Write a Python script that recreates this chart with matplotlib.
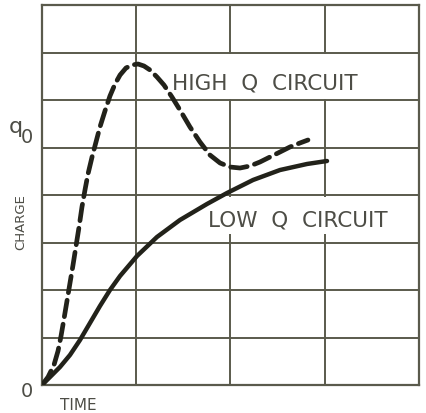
import matplotlib
matplotlib.use("Agg")
import matplotlib.pyplot as plt
from matplotlib.patches import Rectangle

# Data (time in grid columns, charge in grid rows)
high_q_time = [0.0, 0.064, 0.127, 0.170, 0.202, 0.233, 0.265, 0.297, 0.329, 0.361, 0.393,
               0.424, 0.456, 0.488, 0.531, 0.573, 0.615, 0.668, 0.721, 0.775, 0.828, 0.891,
               0.955, 1.019, 1.082, 1.146, 1.220, 1.294, 1.379, 1.464, 1.570, 1.676, 1.782,
               1.889, 1.995, 2.101, 2.207, 2.313, 2.419, 2.525, 2.631, 2.737, 2.822]
high_q_charge = [0.0, 0.168, 0.421, 0.716, 1.032, 1.389, 1.768, 2.147, 2.526, 2.926, 3.326,
                 3.747, 4.105, 4.442, 4.800, 5.116, 5.432, 5.768, 6.084, 6.337, 6.526, 6.674,
                 6.737, 6.758, 6.716, 6.632, 6.484, 6.316, 6.063, 5.789, 5.432, 5.116, 4.842,
                 4.674, 4.589, 4.568, 4.611, 4.695, 4.800, 4.905, 5.011, 5.095, 5.158]

low_q_time = [0.0, 0.085, 0.191, 0.297, 0.403, 0.509, 0.615, 0.721, 0.828, 1.008, 1.220,
              1.464, 1.751, 1.963, 2.239, 2.525, 2.812, 3.024]
low_q_charge = [0.0, 0.168, 0.379, 0.632, 0.947, 1.305, 1.663, 1.999, 2.295, 2.716, 3.116,
                3.474, 3.811, 4.042, 4.316, 4.526, 4.653, 4.716]

x_grid = [1, 2, 3]
y_grid = [1, 2, 3, 4, 5, 6, 7]

plt.rcParams['lines.scale_dashes'] = False
W, H = 427, 414
fig = plt.figure(figsize=(W / 100, H / 100), dpi=100)
fig.patch.set_facecolor('white')
ax = fig.add_axes([42 / W, (H - 386) / H, (419 - 42) / W, (386 - 6) / H])
ax.set_xlim(0, 4)
ax.set_ylim(0, 8)
ax.set_xticks([])
ax.set_yticks([])
grid_col = '#5a5a4c'
for s in ax.spines.values():
    s.set_color(grid_col)
    s.set_linewidth(1.6)
for xv in x_grid:
    ax.axvline(xv, color=grid_col, lw=1.4, zorder=1)
for yv in y_grid:
    ax.axhline(yv, color=grid_col, lw=1.4, zorder=1)

# white label panels that break the grid behind the labels
ax.add_patch(Rectangle((1.5, 6.03), 2.0, 0.94, facecolor='white', edgecolor='none', zorder=2))
ax.add_patch(Rectangle((1.68, 3.18), 2.1, 0.77, facecolor='white', edgecolor='none', zorder=2))

curve_col = '#22221a'
ax.plot(low_q_time, low_q_charge, color=curve_col, lw=3.2, solid_capstyle='round',
        solid_joinstyle='round', zorder=3)
ax.plot(high_q_time, high_q_charge, color=curve_col, lw=3.4, dashes=(12, 5.5),
        dash_capstyle='round', dash_joinstyle='round', zorder=3)

txt_col = '#4d4d46'
fig.text(172 / W, 1 - 89 / H, 'HIGH  Q  CIRCUIT', fontsize=15.5,
         color=txt_col, ha='left', va='baseline', zorder=4)
fig.text(208 / W, 1 - 227 / H, 'LOW  Q  CIRCUIT', fontsize=15.5,
         color=txt_col, ha='left', va='baseline', zorder=4)
fig.text(9 / W, 1 - 133 / H, 'q', fontsize=16, color=txt_col, ha='left', va='baseline')
fig.text(21 / W, 1 - 143 / H, '0', fontsize=14, color=txt_col, ha='left', va='baseline')
fig.text(21 / W, 1 - 222 / H, 'CHARGE', fontsize=9.5, color=txt_col, rotation=90,
         ha='center', va='center')
fig.text(27 / W, 1 - 392 / H, '0', fontsize=14, color=txt_col, ha='center', va='center')
fig.text(78 / W, 1 - 410 / H, 'TIME', fontsize=11, color=txt_col, ha='center', va='baseline')

fig.savefig('out.png', dpi=100, facecolor='white')
